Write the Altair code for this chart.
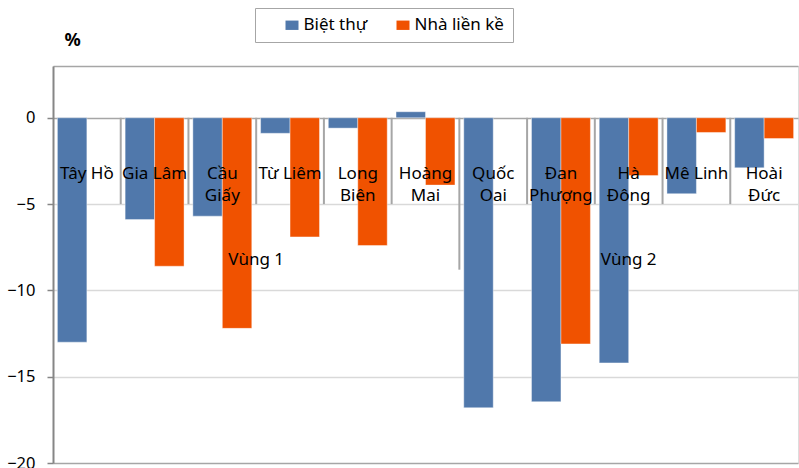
import altair as alt
import pandas as pd

# ---------------- data ----------------
districts = ["Tây Hồ", "Gia Lâm", "Cầu Giấy", "Từ Liêm", "Long Biên", "Hoàng Mai",
             "Quốc Oai", "Đan Phượng", "Hà Đông", "Mê Linh", "Hoài Đức"]
district_labels = ["Tây Hồ", "Gia Lâm", "Cầu\nGiấy", "Từ Liêm", "Long\nBiên", "Hoàng\nMai",
                   "Quốc\nOai", "Đan\nPhượng", "Hà\nĐông", "Mê Linh", "Hoài\nĐức"]
series = ["Biệt thự", "Nhà liền kề"]
biet_thu = [-13.0, -5.9, -5.7, -0.9, -0.6, 0.35, -16.8, -16.45, -14.2, -4.4, -2.9]
nha_lien_ke = [None, -8.6, -12.2, -6.9, -7.4, -3.9, None, -13.1, -3.35, -0.85, -1.2]
regions = ["Vùng 1", "Vùng 2"]
region_start = [0, 6]
region_end = [6, 11]
y_ticks = [0, -5, -10, -15, -20]

# ---------------- style constants ----------------
COLORS = ["#5078AB", "#F05200"]
FONT = "Noto Sans"
LABEL_Y = -3.52
REGION_Y = -8.25
SEP_DEPTH = -5
REGION_SEP_DEPTH = -8.8
GRAY = "#A6A6A6"
FS = 17

rows = []
for i, d in enumerate(districts):
    rows.append({"district": d, "series": series[0], "value": biet_thu[i]})
    rows.append({"district": d, "series": series[1], "value": nha_lien_ke[i]})
bar_df = pd.DataFrame(rows)

label_df = pd.DataFrame({"pos": [i + 0.5 for i in range(len(districts))],
                         "label": district_labels})
sep_pos = list(range(1, len(districts)))
sep_df = pd.DataFrame({
    "pos": sep_pos,
    "top": [0] * len(sep_pos),
    "bottom": [REGION_SEP_DEPTH if p in region_start else SEP_DEPTH for p in sep_pos],
})
region_df = pd.DataFrame({"region": regions,
                          "pos": [(a + b) / 2 for a, b in zip(region_start, region_end)]})

Y_SCALE = alt.Scale(domain=[-20, 3], nice=False, zero=False)
Y_AXIS = alt.Axis(
    values=y_ticks, title="%", titleAngle=0, titleX=19, titleY=-26,
    titleAlign="center", titleBaseline="middle", titleFontSize=18,
    titleFontWeight="bold", titleFont=FONT, titleColor="black",
    labelFont=FONT, labelFontSize=16.5, labelColor="black", labelPadding=12,
    tickSize=6, tickColor="#868686", tickWidth=1.5,
    domainColor="#868686", domainWidth=2,
    grid=True,
    gridColor=alt.condition("datum.value === 0 || datum.value === -20",
                            alt.value(GRAY), alt.value("#D9D9D9")),
    gridWidth=1.5,
)
X_Q = alt.Scale(domain=[0, len(districts)], nice=False, zero=False)

bars = alt.Chart(bar_df).mark_bar(stroke="white", strokeWidth=0.8, strokeOpacity=0.5).encode(
    x=alt.X("district:N", sort=districts,
            scale=alt.Scale(paddingInner=0.13, paddingOuter=0.065),
            axis=alt.Axis(orient="top", labels=False, ticks=False, domain=True,
                          domainColor=GRAY, domainWidth=1.5, title=None, grid=False)),
    xOffset=alt.XOffset("series:N", sort=series),
    y=alt.Y("value:Q", scale=Y_SCALE, axis=Y_AXIS),
    color=alt.Color("series:N", sort=series,
                    scale=alt.Scale(domain=series, range=COLORS),
                    legend=alt.Legend(
                        title=None, orient="none", legendX=202, legendY=-58,
                        direction="horizontal", strokeColor=GRAY, fillColor="white",
                        padding=8.5, symbolType="M-1,-0.72H1V0.72H-1Z", symbolSize=169,
                        symbolStrokeWidth=0, symbolOffset=20, columnPadding=7,
                        labelFont=FONT, labelFontSize=FS, labelColor="black",
                        labelOffset=3,
                        labelExpr="datum.label == 'Nhà liền kề' ? datum.label + '\u00a0\u00a0\u00a0\u00a0\u00a0\u00a0\u00a0\u00a0' : datum.label",
                    )),
)

seps = alt.Chart(sep_df).mark_rule(color=GRAY, strokeWidth=2).encode(
    x=alt.X("pos:Q", scale=X_Q, axis=None),
    y=alt.Y("top:Q", scale=Y_SCALE, axis=Y_AXIS),
    y2="bottom:Q",
)

labels = alt.Chart(label_df).mark_text(
    font=FONT, fontSize=FS, lineBreak="\n", lineHeight=22,
    baseline="alphabetic", align="center", color="black",
).encode(
    x=alt.X("pos:Q", scale=X_Q, axis=None),
    y=alt.YDatum(LABEL_Y, scale=Y_SCALE, axis=Y_AXIS),
    text="label:N",
)

region_txt = alt.Chart(region_df).mark_text(
    font=FONT, fontSize=FS, baseline="middle", align="center", color="black",
).encode(
    x=alt.X("pos:Q", scale=X_Q, axis=None),
    y=alt.YDatum(REGION_Y, scale=Y_SCALE, axis=Y_AXIS),
    text="region:N",
)

chart = alt.layer(bars, seps, labels, region_txt).resolve_scale(
    x="independent"
).properties(
    width=745, height=397,
    autosize=alt.AutoSizeParams(type="none"),
    padding={"left": 53, "top": 66, "right": 1, "bottom": 5},
    background="white",
).configure_view(stroke=None).configure(font=FONT)

chart.save("out.html", embed_options={"renderer": "svg", "actions": False})
